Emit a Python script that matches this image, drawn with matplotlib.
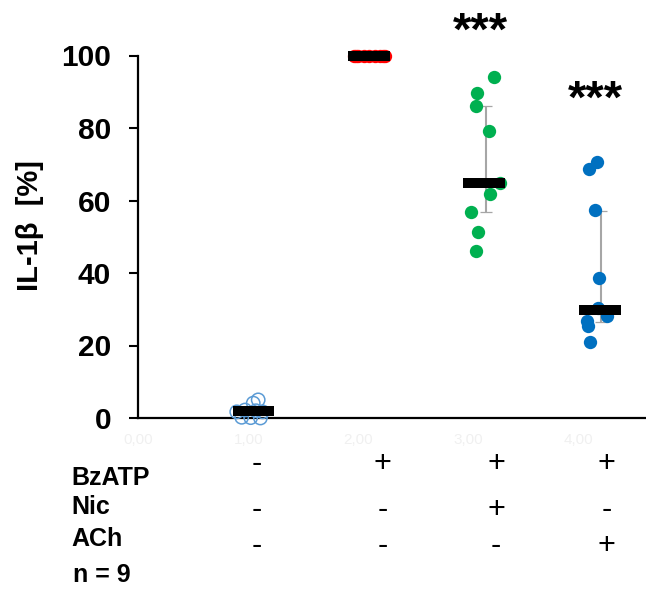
import matplotlib
matplotlib.use("Agg")
import matplotlib.pyplot as plt
import numpy as np

plt.rcParams['font.family'] = ['Liberation Sans', 'DejaVu Sans']

# ---------------- data ----------------
ctrl_x = [0.895, 0.94, 1.022, 1.045, 1.09, 1.11, 1.07, 0.97, 1.13]
ctrl_y = [1.7, 0.2, 0.1, 4.1, 5.0, 0.0, 2.0, 2.2, 1.7]

bz_x = [1.96, 1.98, 2.00, 2.05, 2.10, 2.15, 2.20, 2.22, 2.24]
bz_y = [100, 100, 100, 100, 100, 100, 100, 100, 100]

nic_x = [3.234, 3.076, 3.07, 3.19, 3.288, 3.197, 3.022, 3.085, 3.07]
nic_y = [94.2, 89.6, 86.1, 79.2, 64.7, 61.7, 56.7, 51.4, 46.2]

ach_x = [4.167, 4.10, 4.152, 4.188, 4.18, 4.258, 4.082, 4.091, 4.106]
ach_y = [70.7, 68.6, 57.4, 38.7, 30.3, 28.2, 26.8, 25.4, 20.9]

median_x = [1.047, 2.098, 3.14, 4.197]
median_y = [2.0, 100.0, 64.7, 29.8]

err_x = [3.16, 4.206]
err_center = [64.7, 29.8]
err_low = [56.9, 26.6]
err_high = [86.1, 57.2]

star_x = [3.106, 4.16]
star_y = [103.0, 84.2]
star_text = ['***', '***']

xtick_pos = [0, 1, 2, 3, 4]
xtick_labels = ['0,00', '1,00', '2,00', '3,00', '4,00']
ytick_pos = [0, 20, 40, 60, 80, 100]

row_names = ['BzATP', 'Nic', 'ACh']
row_signs = [['-', '+', '+', '+'],
             ['-', '-', '+', '-'],
             ['-', '-', '-', '+']]
n_label = 'n = 9'

# ---------------- figure ----------------
W, H = 646, 589
fig = plt.figure(figsize=(W / 100, H / 100), dpi=100)
x0, x_axis_y, y100 = 138.3, 418.0, 55.5
ax = fig.add_axes([x0 / W, (H - x_axis_y) / H, (W - x0) / W, (x_axis_y - y100) / H])
ax.set_xlim(0, (W - x0) / 110.0)
ax.set_ylim(0, 100)

for s in ['top', 'right']:
    ax.spines[s].set_visible(False)
for s in ['left', 'bottom']:
    ax.spines[s].set_linewidth(1.6)
    ax.spines[s].set_color('black')

ax.set_yticks(ytick_pos)
ax.tick_params(axis='y', direction='out', length=6.5, width=1.5, pad=13,
               labelsize=21.5)
for lab in ax.get_yticklabels():
    lab.set_fontweight('bold')

ax.set_xticks(xtick_pos)
ax.set_xticklabels(xtick_labels)
ax.tick_params(axis='x', length=0, pad=11, labelsize=11, labelcolor='#f0f0f0')

# error bars
yerr = [np.array(err_center) - np.array(err_low), np.array(err_high) - np.array(err_center)]
ax.errorbar(err_x, err_center, yerr=yerr, fmt='none', ecolor='#a6a6a6',
            elinewidth=1.5, capsize=4.5, capthick=0.9, zorder=2, clip_on=False)

# points
ms = 92
ax.scatter(ctrl_x, ctrl_y, s=ms, facecolors='none', edgecolors='#5b9bd5',
           linewidths=1.1, zorder=3, clip_on=False)
ax.scatter(bz_x, bz_y, s=ms, color='#ff0000', zorder=3, clip_on=False, linewidths=0)
ax.scatter(nic_x, nic_y, s=ms, color='#00b050', zorder=3, clip_on=False, linewidths=0)
ax.scatter(ach_x, ach_y, s=ms, color='#0070c0', zorder=3, clip_on=False, linewidths=0)

# median bars
ax.errorbar(median_x, median_y, xerr=0.19, fmt='none', ecolor='black',
            elinewidth=7.2, capsize=0, zorder=4, clip_on=False)

# significance stars
for sx, sy, st in zip(star_x, star_y, star_text):
    ax.text(sx, sy, st, ha='center', va='baseline', fontsize=34,
            fontweight='bold', clip_on=False)

# y label
fig.text(30 / W, 1 - 226 / H, 'IL-1β  [%]', rotation=90, ha='center', va='center',
         fontsize=21, fontweight='bold')

# condition table
label_y = [478, 507, 539]
sign_y = [464, 510, 546]
col_x = [256.7, 382.3, 496.0, 606.7]
for name, ly in zip(row_names, label_y):
    fig.text(71.7 / W, 1 - ly / H, name, ha='left', va='center', fontsize=18,
             fontweight='bold')
for signs, sy in zip(row_signs, sign_y):
    for sign, cx in zip(signs, col_x):
        fig.text(cx / W, 1 - sy / H, sign, ha='center', va='center', fontsize=22)
fig.text(72.7 / W, 1 - 575 / H, n_label, ha='left', va='center', fontsize=18,
         fontweight='bold')

fig.savefig('out.png', dpi=100)
